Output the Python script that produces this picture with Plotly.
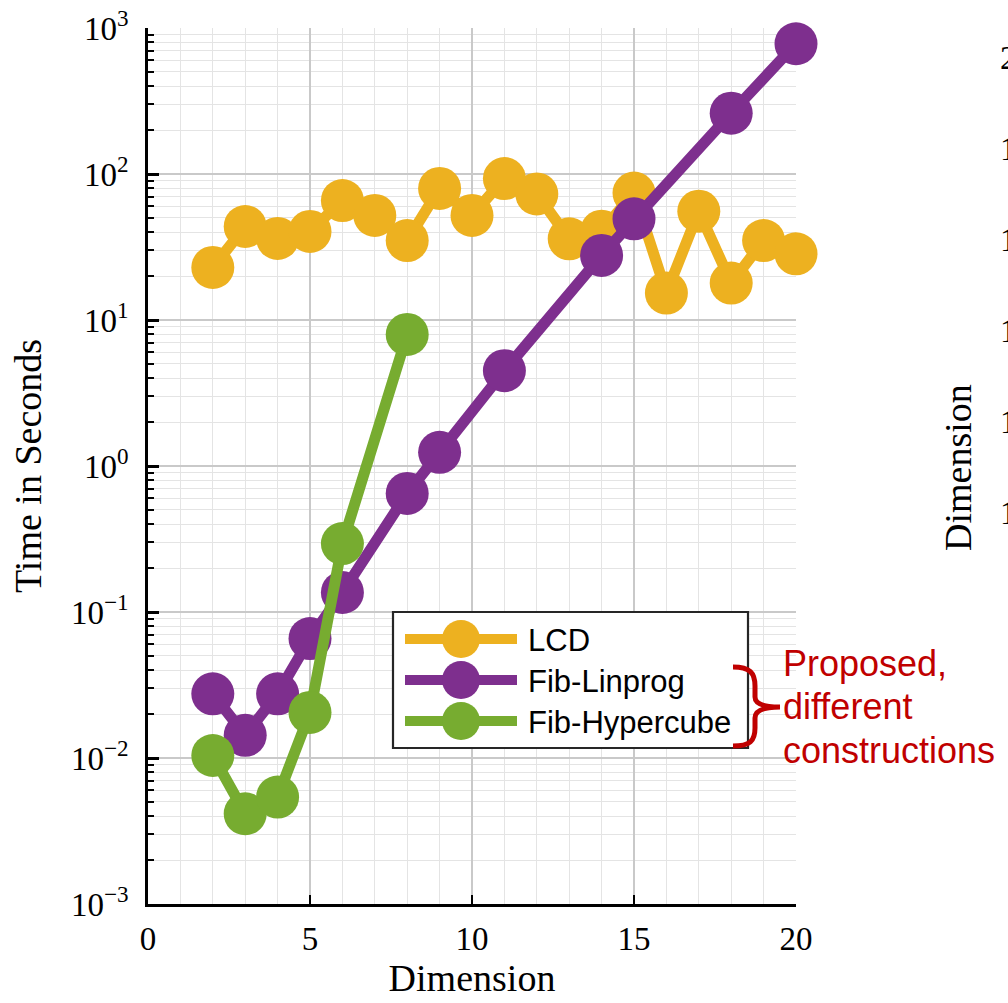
import plotly.graph_objects as go

# ---- measured run times (seconds) per dimension ----
lcd_dims = [2, 3, 4, 5, 6, 7, 8, 9, 10, 11, 12, 13, 14, 15, 16, 17, 18, 19, 20]
lcd_time = [22.9, 43.7, 36.2, 40.4, 65.8, 52.0, 35.0, 79.6, 52.0, 93.0, 73.0,
            36.0, 40.6, 74.0, 15.3, 55.6, 17.9, 35.0, 28.4]

linprog_dims = [2, 3, 4, 5, 6, 8, 9, 11, 14, 15, 18, 20]
linprog_time = [0.0275, 0.0143, 0.0275, 0.0658, 0.136, 0.649, 1.24, 4.5,
                27.7, 49.3, 261.0, 780.0]

hypercube_dims = [2, 3, 4, 5, 6, 8]
hypercube_time = [0.0104, 0.00415, 0.0054, 0.0205, 0.294, 7.96]

series_names = ["LCD", "Fib-Linprog", "Fib-Hypercube"]
series_colors = ["#EDB120", "#7E2F8E", "#77AC30"]

x_tickvals = [0, 5, 10, 15, 20]
y_tickvals = [1e-3, 1e-2, 1e-1, 1e0, 1e1, 1e2, 1e3]
y_ticktext = ["10<sup>−3</sup>", "10<sup>−2</sup>", "10<sup>−1</sup>", "10<sup>0</sup>",
              "10<sup>1</sup>", "10<sup>2</sup>", "10<sup>3</sup>"]

note_lines = ["Proposed,", "different", "constructions"]

# neighbouring panel (only its left edge is on the page)
side_title = "Dimension"
side_ticktext = ["20", "18", "16", "14", "12", "10"]

# ---- page geometry (pixels) ----
W, H = 1008, 1003
L, R, T, B = 148, 796, 28, 904


def px(x):
    return (x - L) / (R - L)


def py(y):
    return (B - y) / (B - T)


fig = go.Figure()
for dims, times, name, color in zip(
        [lcd_dims, linprog_dims, hypercube_dims],
        [lcd_time, linprog_time, hypercube_time],
        series_names, series_colors):
    fig.add_trace(go.Scatter(
        x=dims, y=times, name=name, mode="lines+markers",
        line=dict(color=color, width=11),
        marker=dict(color=color, size=43, line=dict(width=0)),
        cliponaxis=False, showlegend=False,
    ))

minor_y = [k * 10.0 ** e for e in range(-3, 3) for k in range(2, 10)]

fig.update_layout(
    width=W, height=H,
    margin=dict(l=L, r=W - R, t=T, b=H - B, autoexpand=False),
    plot_bgcolor="white", paper_bgcolor="white",
    font=dict(family="Liberation Serif", size=33, color="black"),
    showlegend=False,
)

fig.update_xaxes(
    range=[0, 20], tickmode="array", tickvals=x_tickvals,
    ticks="inside", ticklen=9, tickwidth=2, tickcolor="black",
    showline=True, linecolor="black", linewidth=2.5, mirror=False,
    showgrid=True, gridcolor="#c9c9c9", gridwidth=1.6, zeroline=False,
    minor=dict(tickmode="linear", tick0=0, dtick=1, ticks="",
               showgrid=True, gridcolor="#e4e4e4", gridwidth=1.4),
    tickfont=dict(size=33), ticklabelstandoff=4,
    title=dict(text="Dimension", font=dict(size=38), standoff=8),
)

fig.update_yaxes(
    type="log", range=[-3, 3], tickmode="array",
    tickvals=y_tickvals, ticktext=y_ticktext,
    ticks="inside", ticklen=11, tickwidth=2.5, tickcolor="black",
    showline=True, linecolor="black", linewidth=2.5, mirror=False,
    showgrid=True, gridcolor="#c9c9c9", gridwidth=1.6, zeroline=False,
    minor=dict(tickmode="array", tickvals=minor_y, ticks="inside",
               ticklen=6, tickwidth=2, tickcolor="black",
               showgrid=True, gridcolor="#e4e4e4", gridwidth=1.4),
    tickfont=dict(size=33), ticklabelstandoff=10,
    title=dict(text="Time in Seconds", font=dict(size=38), standoff=18),
)

shapes = []
annotations = []

# ---- legend box ----
shapes.append(dict(type="rect", xref="paper", yref="paper",
                   x0=px(393), x1=px(748), y0=py(748), y1=py(612),
                   line=dict(color="#262626", width=2.2),
                   fillcolor="white", layer="above"))
row_y = [639, 680, 721]
for ry, name, color in zip(row_y, series_names, series_colors):
    shapes.append(dict(type="line", xref="paper", yref="paper",
                       x0=px(405), x1=px(517), y0=py(ry), y1=py(ry),
                       line=dict(color=color, width=10), layer="above"))
    shapes.append(dict(type="circle", xref="paper", yref="paper",
                       xsizemode="pixel", ysizemode="pixel",
                       xanchor=px(461), yanchor=py(ry),
                       x0=-19, x1=19, y0=-19, y1=19,
                       fillcolor=color, line=dict(width=0), layer="above"))
    annotations.append(dict(xref="paper", yref="paper", x=px(526), y=py(ry + 1),
                            xanchor="left", yanchor="middle", showarrow=False,
                            text=name,
                            font=dict(family="Liberation Sans", size=31, color="black")))

# ---- brace and note ----
def to_path(pts_cmds):
    out = []
    for cmd, pts in pts_cmds:
        coords = " ".join(f"{px(x):.5f},{py(y):.5f}" for x, y in pts)
        out.append(f"{cmd} {coords}")
    return " ".join(out)


brace = to_path([
    ("M", [(733, 667)]),
    ("C", [(750, 667), (755, 673), (755, 686)]),
    ("L", [(755, 697)]),
    ("C", [(755, 703), (762, 707), (780, 707)]),
    ("C", [(762, 707), (755, 711), (755, 718)]),
    ("L", [(755, 728)]),
    ("C", [(755, 741), (750, 746), (733, 746)]),
])
shapes.append(dict(type="path", xref="paper", yref="paper", path=brace,
                   line=dict(color="#C00000", width=5), layer="above"))

for yy, line in zip([663, 706, 750], note_lines):
    annotations.append(dict(xref="paper", yref="paper", x=px(781), y=py(yy),
                            xanchor="left", yanchor="middle", showarrow=False,
                            text=line,
                            font=dict(family="Liberation Sans", size=36, color="#C00000")))

# ---- left edge of the neighbouring panel ----
annotations.append(dict(xref="paper", yref="paper", x=px(958), y=py(468),
                        xanchor="center", yanchor="middle", showarrow=False,
                        text=side_title, textangle=-90,
                        font=dict(family="Liberation Serif", size=38, color="black")))
for yy, t in zip([58, 149, 240, 331, 422, 513], side_ticktext):
    annotations.append(dict(xref="paper", yref="paper", x=px(998), y=py(yy),
                            xanchor="left", yanchor="middle", showarrow=False,
                            text=t,
                            font=dict(family="Liberation Serif", size=33, color="black")))

fig.update_layout(shapes=shapes, annotations=annotations)

fig.write_html("out.html")
